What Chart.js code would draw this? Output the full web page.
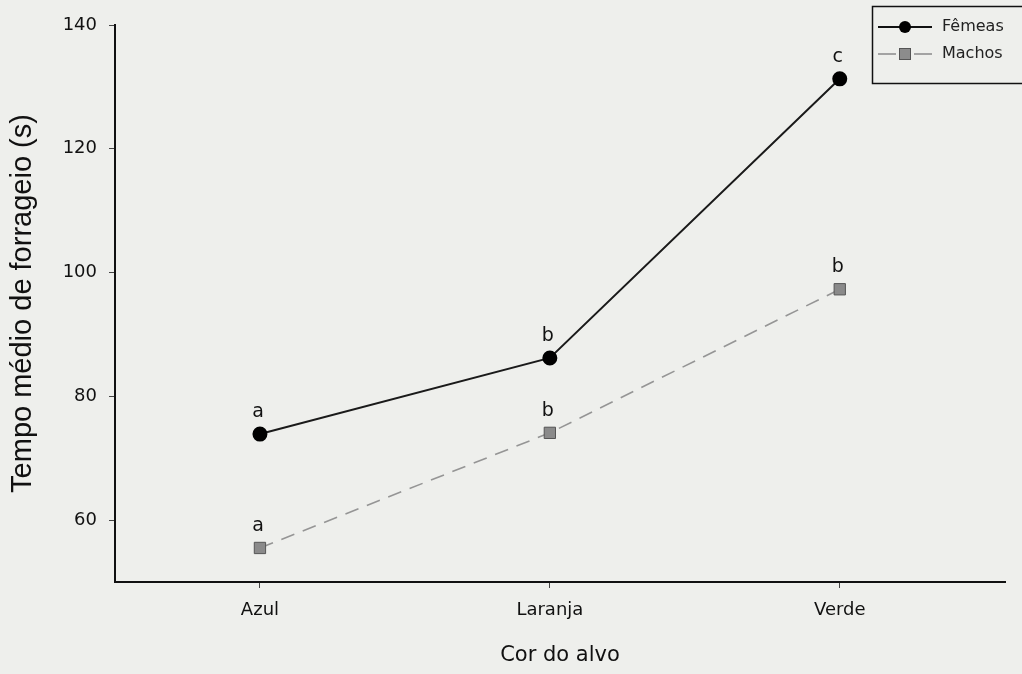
<!DOCTYPE html>
<html>
<head>
<meta charset="utf-8">
<script src="https://cdn.jsdelivr.net/npm/chart.js@4"></script>
<style>
  html, body { margin: 0; padding: 0; background: #eeefec; }
  #wrap { width: 1022px; height: 674px; }
</style>
</head>
<body>
<div id="wrap"><canvas id="myChart" width="1022" height="674"></canvas></div>
<script>
var categorias = ['Azul', 'Laranja', 'Verde'];
var femeas = [73.9, 86.2, 131.3];
var machos = [55.5, 74.1, 97.3];
var letrasFemeas = ['a', 'b', 'c'];
var letrasMachos = ['a', 'b', 'b'];
var ticksY = [60, 80, 100, 120, 140];

var fonte = "'DejaVu Sans', sans-serif";

// letras de significancia acima dos pontos
var letrasPlugin = {
    id: 'letras',
    afterDatasetsDraw: function (chart) {
        var ctx = chart.ctx;
        var grupos = [letrasFemeas, letrasMachos];
        ctx.save();
        ctx.fillStyle = '#111';
        ctx.font = '19px ' + fonte;
        ctx.textAlign = 'center';
        ctx.textBaseline = 'alphabetic';
        grupos.forEach(function (letras, d) {
            var meta = chart.getDatasetMeta(d);
            meta.data.forEach(function (pt, i) {
                ctx.fillText(letras[i], pt.x - 2, pt.y - 17);
            });
        });
        ctx.restore();
    }
};

// legenda em caixa no canto superior direito
var legendaPlugin = {
    id: 'legenda',
    afterDraw: function (chart) {
        var ctx = chart.ctx;
        ctx.save();
        ctx.strokeStyle = '#111';
        ctx.lineWidth = 1.5;
        ctx.strokeRect(872.5, 6.5, 170, 77);
        ctx.font = '16px ' + fonte;
        ctx.textBaseline = 'middle';
        ctx.fillStyle = '#222';
        // Femeas
        ctx.strokeStyle = '#111';
        ctx.lineWidth = 2;
        ctx.beginPath(); ctx.moveTo(878, 27); ctx.lineTo(932, 27); ctx.stroke();
        ctx.fillStyle = '#000';
        ctx.beginPath(); ctx.arc(905, 27, 6, 0, Math.PI * 2); ctx.fill();
        ctx.fillStyle = '#222';
        ctx.fillText('Fêmeas', 942, 27);
        // Machos
        ctx.strokeStyle = '#8a8a8a';
        ctx.lineWidth = 1.5;
        ctx.beginPath(); ctx.moveTo(878, 54); ctx.lineTo(896, 54); ctx.moveTo(914, 54); ctx.lineTo(932, 54); ctx.stroke();
        ctx.fillStyle = '#8c8c8c';
        ctx.fillRect(899, 48, 12, 12);
        ctx.strokeStyle = '#555';
        ctx.lineWidth = 1;
        ctx.strokeRect(899.5, 48.5, 11, 11);
        ctx.fillStyle = '#222';
        ctx.fillText('Machos', 942, 54);
        ctx.restore();
    }
};

var ctx = document.getElementById('myChart').getContext('2d');
var myChart = new Chart(ctx, {
    type: 'line',
    data: {
        datasets: [{
            label: 'Fêmeas',
            data: femeas.map(function (v, i) { return { x: i, y: v }; }),
            borderColor: '#1a1a1a',
            borderWidth: 2,
            pointStyle: 'circle',
            pointRadius: 6.5,
            pointBackgroundColor: '#000',
            pointBorderColor: '#000',
            tension: 0
        }, {
            label: 'Machos',
            data: machos.map(function (v, i) { return { x: i, y: v }; }),
            borderColor: '#959595',
            borderWidth: 1.6,
            borderDash: [14, 9],
            pointStyle: 'rect',
            pointRadius: 8,
            pointBackgroundColor: '#8a8a8a',
            pointBorderColor: '#555',
            pointBorderWidth: 1,
            tension: 0
        }]
    },
    options: {
        responsive: false,
        animation: false,
        layout: { padding: { top: 25, right: 17, left: 0, bottom: 0 } },
        plugins: {
            legend: { display: false },
            tooltip: { enabled: false }
        },
        scales: {
            x: {
                type: 'linear',
                min: -0.5,
                max: 2.57,
                afterBuildTicks: function (axis) {
                    axis.ticks = categorias.map(function (c, i) { return { value: i }; });
                },
                afterFit: function (axis) { axis.height = 92; },
                ticks: {
                    callback: function (v) { return categorias[v]; },
                    color: '#111',
                    font: { family: fonte, size: 18 },
                    padding: 12
                },
                grid: { drawOnChartArea: false, drawTicks: true, tickLength: 6, color: '#444' },
                border: { display: true, color: '#111', width: 2 },
                title: {
                    display: true,
                    text: 'Cor do alvo',
                    color: '#111',
                    font: { family: fonte, size: 21 },
                    padding: { top: 0, bottom: 6 }
                }
            },
            y: {
                min: 50,
                max: 140,
                afterBuildTicks: function (axis) {
                    axis.ticks = ticksY.map(function (v) { return { value: v }; });
                },
                afterFit: function (axis) { axis.width = 115; },
                ticks: {
                    color: '#111',
                    font: { family: fonte, size: 18 },
                    padding: 12
                },
                grid: { drawOnChartArea: false, drawTicks: true, tickLength: 6, color: '#444' },
                border: { display: true, color: '#111', width: 2 },
                title: {
                    display: true,
                    text: 'Tempo médio de forrageio (s)',
                    color: '#111',
                    font: { family: "'Liberation Sans', Arial, sans-serif", size: 29, lineHeight: 1 },
                    padding: { top: 8, bottom: 0 }
                }
            }
        }
    },
    plugins: [letrasPlugin, legendaPlugin]
});
</script>
</body>
</html>
